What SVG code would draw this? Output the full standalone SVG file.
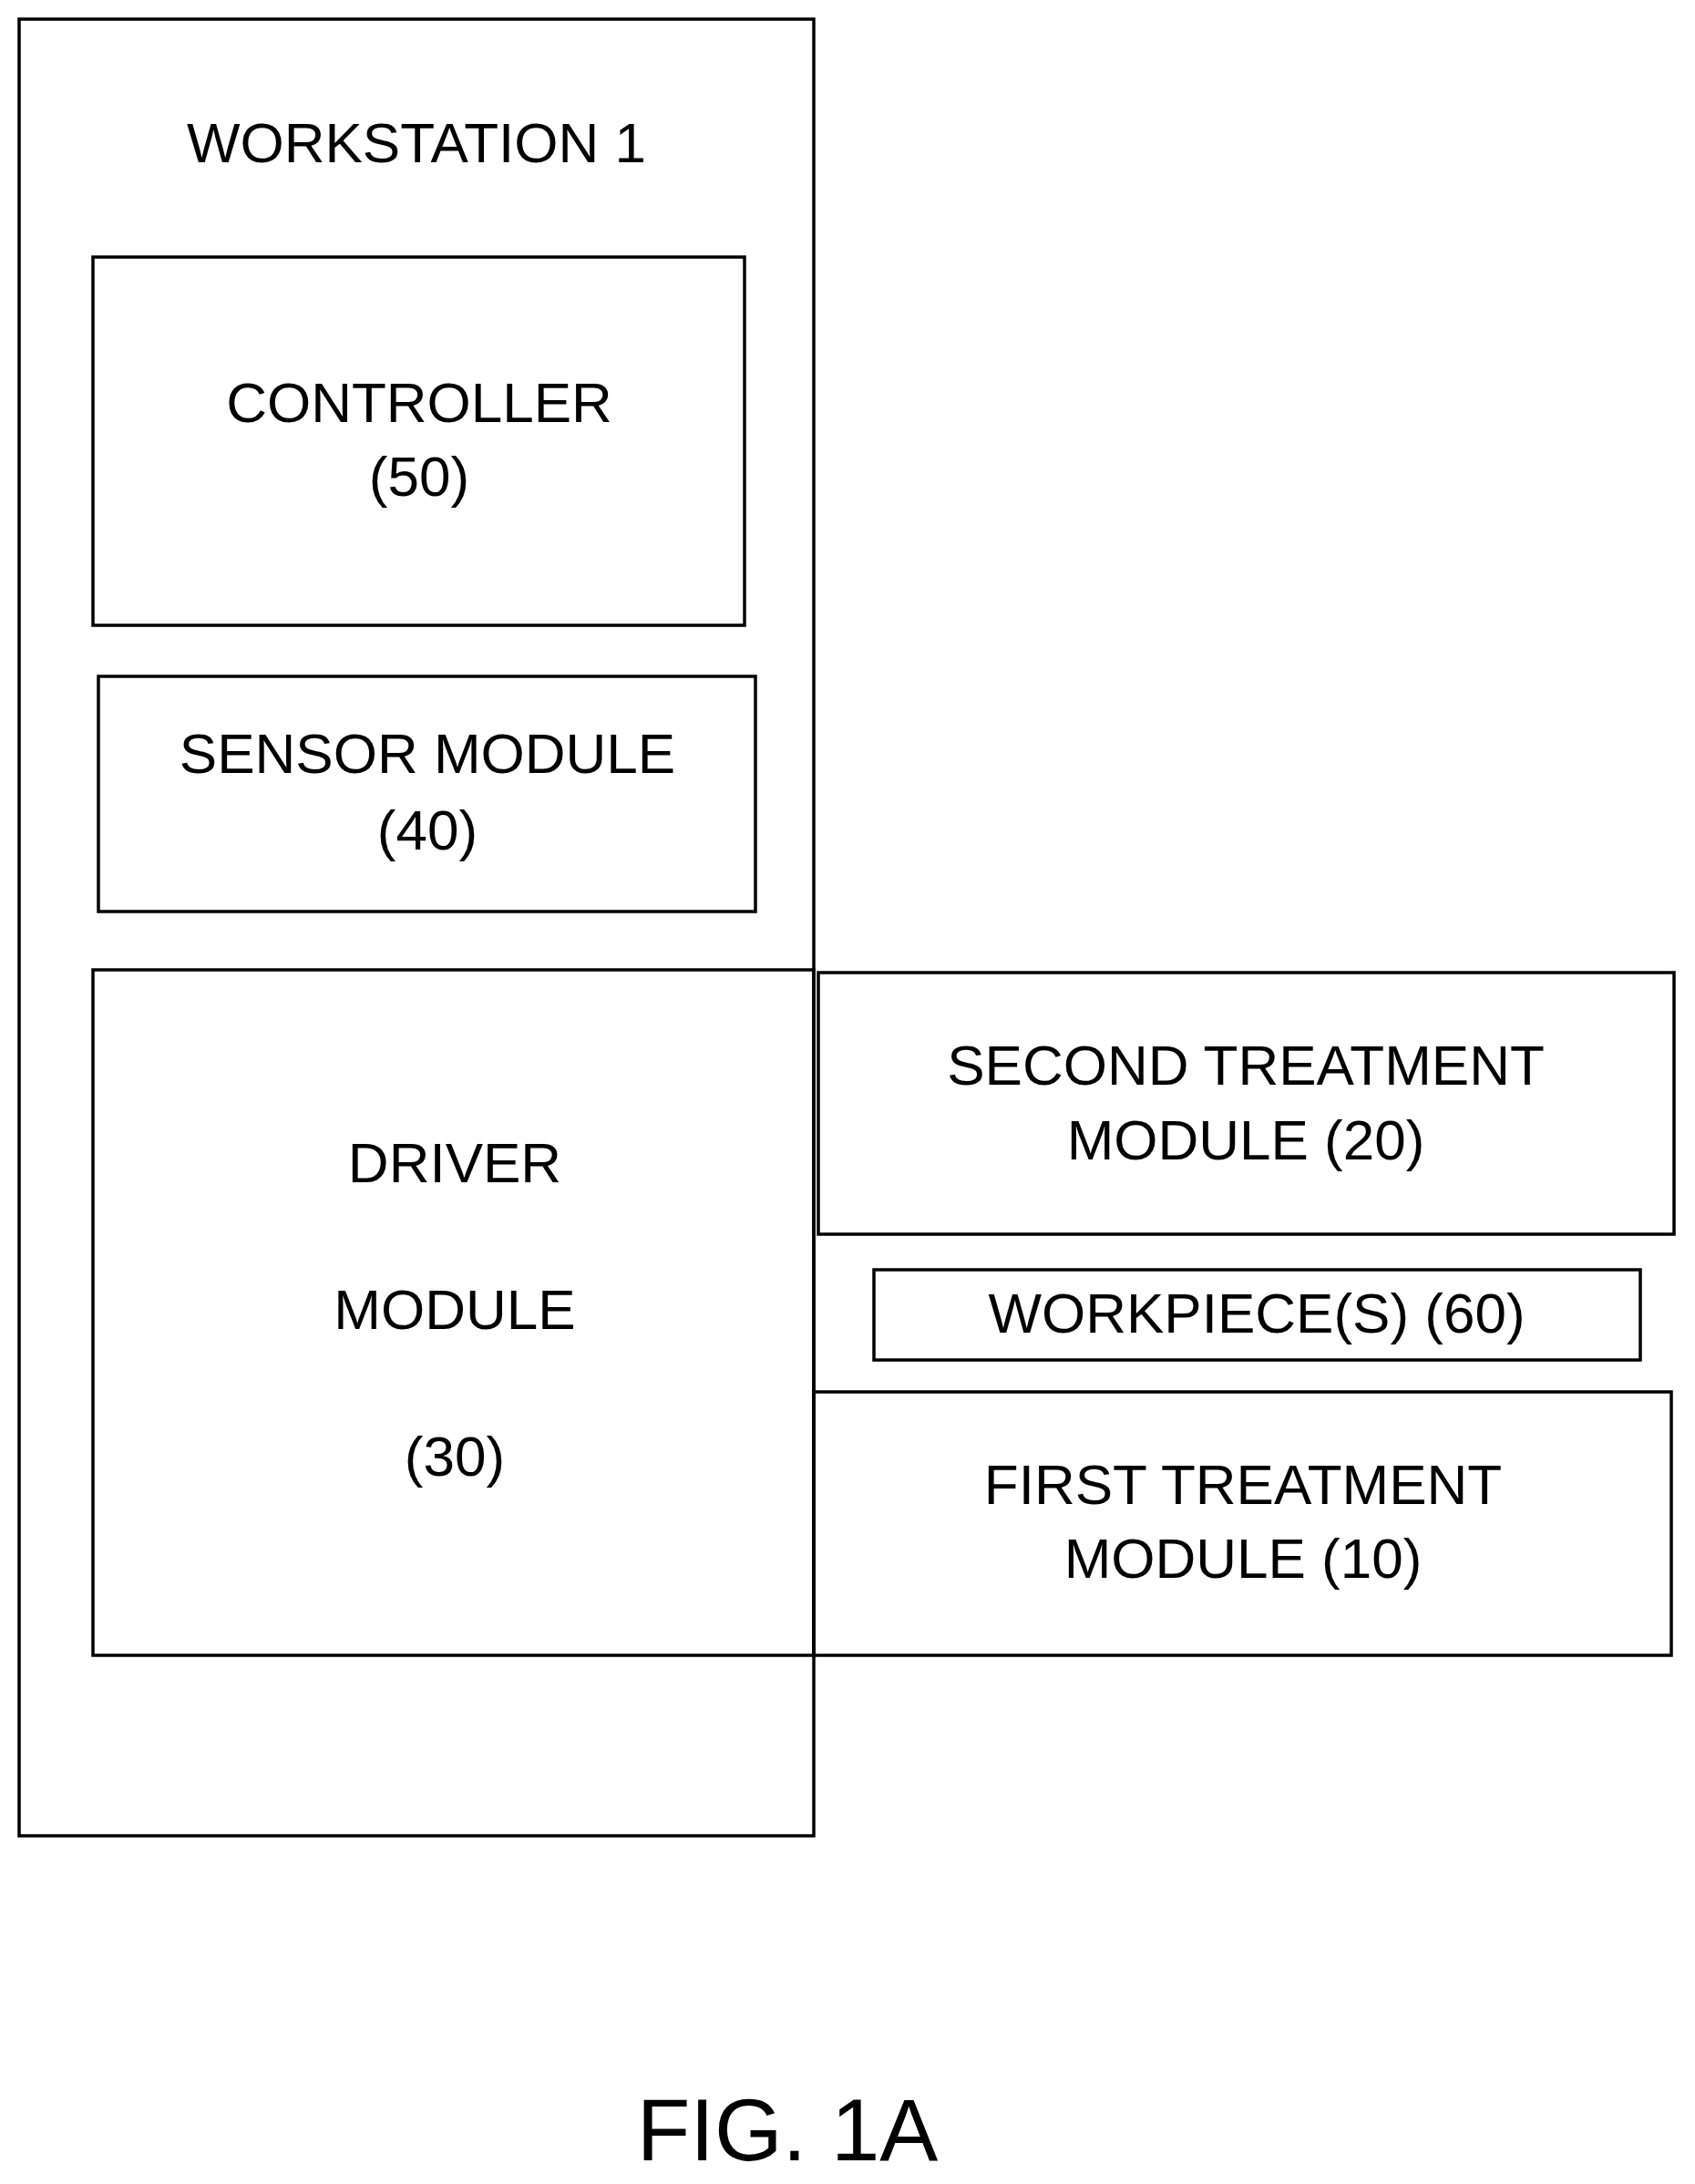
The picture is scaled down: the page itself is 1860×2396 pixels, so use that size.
<svg xmlns="http://www.w3.org/2000/svg" width="1860" height="2396" viewBox="0 0 1860 2396">
<style>
rect{fill:none;stroke:#000;stroke-width:3.5}
text{font-family:"Liberation Sans",Arial,sans-serif;font-size:62px;text-anchor:middle;fill:#000}
</style>
<rect x="0" y="0" width="1860" height="2396" style="fill:#fff;stroke:none"/>
<g id="workstation"><rect x="21" y="21" width="872" height="1993"/><text x="457" y="178">WORKSTATION 1</text></g>
<g id="controller"><rect x="102" y="282" width="715" height="404"/><text x="460" y="463">CONTROLLER</text><text x="460" y="544">(50)</text></g>
<g id="sensor"><rect x="108" y="742" width="721" height="258"/><text x="469" y="848">SENSOR MODULE</text><text x="469" y="932">(40)</text></g>
<g id="driver"><rect x="102" y="1064" width="791" height="752"/><text x="499" y="1297">DRIVER</text><text x="499" y="1458">MODULE</text><text x="499" y="1619">(30)</text></g>
<g id="second"><rect x="898" y="1067" width="939" height="287"/><text x="1367" y="1190">SECOND TREATMENT</text><text x="1367" y="1272">MODULE (20)</text></g>
<g id="workpiece"><rect x="959" y="1393" width="841" height="99"/><text x="1379" y="1462">WORKPIECE(S) (60)</text></g>
<g id="first"><rect x="893" y="1527" width="941" height="289"/><text x="1364" y="1650">FIRST TREATMENT</text><text x="1364" y="1731">MODULE (10)</text></g>
<g id="connectors"></g>
<text x="864" y="2370" style="font-size:96px">FIG. 1A</text>
</svg>
